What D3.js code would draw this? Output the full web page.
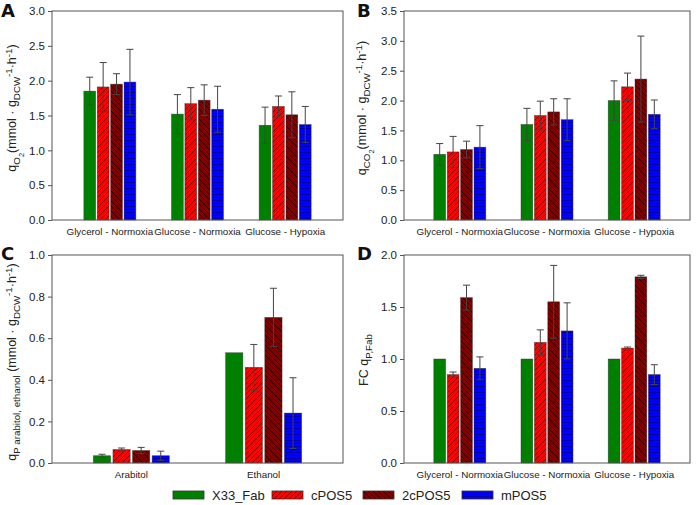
<!DOCTYPE html>
<html>
<head>
<meta charset="utf-8">
<script src="https://cdn.jsdelivr.net/npm/d3@7"></script>
<style>
  html, body { margin: 0; padding: 0; background: #fff; }
  svg { display: block; font-family: "Liberation Sans", Arial, sans-serif; }
</style>
</head>
<body>
<svg id="chart" width="696" height="505"></svg>
<script>
// four bar panels (A-D), one shared legend at the bottom

const strains = ["X33_Fab", "cPOS5", "2cPOS5", "mPOS5"];
const conditions = ["Glycerol - Normoxia", "Glucose - Normoxia", "Glucose - Hypoxia"];
const products = ["Arabitol", "Ethanol"];

// A: qO2
const qO2 = [[1.85, 1.91, 1.95, 1.98], [1.52, 1.67, 1.72, 1.59], [1.36, 1.63, 1.51, 1.37]];
const qO2Err = [[0.20, 0.35, 0.15, 0.47], [0.28, 0.23, 0.22, 0.33], [0.26, 0.15, 0.33, 0.26]];
// B: qCO2
const qCO2 = [[1.10, 1.14, 1.18, 1.22], [1.60, 1.75, 1.81, 1.68], [2.00, 2.23, 2.36, 1.77]];
const qCO2Err = [[0.18, 0.26, 0.14, 0.36], [0.27, 0.24, 0.22, 0.35], [0.33, 0.23, 0.72, 0.24]];
// C: qP arabitol / ethanol
const qP = [[0.035, 0.065, 0.060, 0.035], [0.53, 0.46, 0.70, 0.24]];
const qPErr = [[0.007, 0.007, 0.015, 0.022], [0, 0.11, 0.14, 0.17]];
// D: fold change qP,Fab
const fcFab = [[1.0, 0.85, 1.59, 0.91], [1.0, 1.16, 1.55, 1.27], [1.0, 1.105, 1.79, 0.85]];
const fcFabErr = [[0, 0.025, 0.12, 0.11], [0, 0.12, 0.35, 0.27], [0, 0.01, 0.015, 0.095]];

const ticksA = [0, 0.5, 1.0, 1.5, 2.0, 2.5, 3.0];
const ticksB = [0, 0.5, 1.0, 1.5, 2.0, 2.5, 3.0, 3.5];
const ticksC = [0, 0.2, 0.4, 0.6, 0.8, 1.0];
const ticksD = [0, 0.5, 1.0, 1.5, 2.0];

const FILLS = { "X33_Fab": "#008000", "cPOS5": "url(#hatch-red)", "2cPOS5": "url(#hatch-dark)", "mPOS5": "url(#hatch-blue)" };

const svg = d3.select("#chart");
const defs = svg.append("defs");

function hatch(id, bg, line, size, d, w) {
  const p = defs.append("pattern").attr("id", id)
    .attr("patternUnits", "userSpaceOnUse").attr("width", size).attr("height", size);
  p.append("rect").attr("width", size).attr("height", size).attr("fill", bg);
  p.append("path").attr("d", d).attr("stroke", line).attr("stroke-width", w).attr("fill", "none");
}
hatch("hatch-red", "#ff0000", "#5a0000", 5, "M0,5 L5,0 M-1,1 L1,-1 M4,6 L6,4", 0.7);
hatch("hatch-dark", "#800000", "#1a0000", 5, "M0,0 L5,5 M-1,4 L1,6 M4,-1 L6,1", 0.7);
hatch("hatch-blue", "#0000ff", "#00006a", 3, "M0,2.5 L3,2.5", 0.6);

// rotated label with sub (-1, -2) and super (+1) runs
function yLabel(g, x, y, size, parts) {
  const t = g.append("text")
    .attr("transform", `translate(${x},${y}) rotate(-90)`)
    .attr("text-anchor", "middle")
    .attr("font-size", size)
    .attr("fill", "#222");
  let level = 0;
  parts.forEach(([txt, lvl]) => {
    const fs = lvl === 0 ? size : size * (lvl === -2 ? 0.6 : 0.78);
    const dy = (level - lvl) * size * 0.3;
    t.append("tspan").attr("dy", dy).attr("font-size", fs).text(txt);
    level = lvl;
  });
}

function panel(cfg) {
  const { box, groups, values, errors, ticks, pad, span, letter } = cfg;
  const g = svg.append("g");

  const y = d3.scaleLinear().domain([0, ticks[ticks.length - 1]]).range([box.y1, box.y0]);
  const x = d3.scalePoint().domain(groups).range([box.x0, box.x1]).padding(pad);
  const inner = d3.scaleBand().domain(strains).range([-span / 2, span / 2]).paddingInner(0.12);

  const rows = [];
  groups.forEach((grp, gi) => strains.forEach((s, si) => {
    rows.push({ grp, s, v: values[gi][si], e: errors[gi][si] });
  }));

  g.selectAll("rect.bar").data(rows).join("rect")
    .attr("class", "bar")
    .attr("x", (d) => x(d.grp) + inner(d.s))
    .attr("width", inner.bandwidth())
    .attr("y", (d) => y(d.v))
    .attr("height", (d) => y(0) - y(d.v))
    .attr("fill", (d) => FILLS[d.s])
    .attr("stroke", "#333")
    .attr("stroke-opacity", 0.7)
    .attr("stroke-width", 0.6);

  const eb = g.selectAll("g.err").data(rows.filter((d) => d.e > 0)).join("g")
    .attr("class", "err")
    .attr("transform", (d) => `translate(${x(d.grp) + inner(d.s) + inner.bandwidth() / 2},0)`)
    .attr("stroke", "#444").attr("stroke-width", 1);
  eb.append("line").attr("y1", (d) => y(d.v - d.e)).attr("y2", (d) => y(d.v + d.e));
  eb.append("line").attr("x1", -3.5).attr("x2", 3.5).attr("y1", (d) => y(d.v + d.e)).attr("y2", (d) => y(d.v + d.e));
  eb.append("line").attr("x1", -3.5).attr("x2", 3.5).attr("y1", (d) => y(d.v - d.e)).attr("y2", (d) => y(d.v - d.e));

  // frame
  g.append("rect")
    .attr("x", box.x0).attr("y", box.y0)
    .attr("width", box.x1 - box.x0).attr("height", box.y1 - box.y0)
    .attr("fill", "none").attr("stroke", "#555").attr("stroke-width", 1);

  const ax = g.append("g").attr("transform", `translate(${box.x0},0)`)
    .call(d3.axisLeft(y).tickValues(ticks).tickSize(4).tickPadding(3).tickFormat(d3.format(".1f")));
  ax.select(".domain").remove();
  ax.selectAll(".tick line").attr("stroke", "#555");
  ax.selectAll("text").attr("font-size", 11.5).attr("fill", "#222").attr("font-family", null);

  g.selectAll("text.cat").data(groups).join("text")
    .attr("class", "cat")
    .attr("x", (d) => x(d)).attr("y", box.y1 + 15)
    .attr("text-anchor", "middle").attr("font-size", 9.8).attr("fill", "#222")
    .text((d) => d);

  g.append("text").attr("x", letter[0]).attr("y", letter[1])
    .attr("font-size", 18).attr("font-weight", "bold").attr("fill", "#111")
    .attr("font-family", "'DejaVu Sans', 'Liberation Sans', sans-serif")
    .text(cfg.name);

  yLabel(g, cfg.ylab[0], cfg.ylab[1], cfg.ylab[2], cfg.ylabParts);
}

const unitParts = [["(mmol · g", 0], ["DCW", -1], ["-1", 1], ["·h", 0], ["-1", 1], [")", 0]];

panel({
  name: "A", box: { x0: 52, x1: 343, y0: 11, y1: 220 }, groups: conditions,
  values: qO2, errors: qO2Err, ticks: ticksA, pad: 0.66, span: 52, letter: [1, 17],
  ylab: [16, 108, 12.5], ylabParts: [["q", 0], ["O", -1], ["2", -2], ...unitParts]
});
panel({
  name: "B", box: { x0: 404, x1: 690, y0: 11, y1: 220 }, groups: conditions,
  values: qCO2, errors: qCO2Err, ticks: ticksB, pad: 0.64, span: 52, letter: [357, 17],
  ylab: [366, 108, 12.5], ylabParts: [["q", 0], ["CO", -1], ["2", -2], ...unitParts]
});
panel({
  name: "C", box: { x0: 52, x1: 343, y0: 255, y1: 463 }, groups: products,
  values: qP, errors: qPErr, ticks: ticksC, pad: 0.6, span: 76, letter: [1, 260],
  ylab: [16, 362, 12.5], ylabParts: [["q", 0], ["P arabitol, ethanol", -1], [" (mmol · g", 0], ["DCW", -1], ["-1", 1], ["·h", 0], ["-1", 1], [")", 0]]
});
panel({
  name: "D", box: { x0: 404, x1: 690, y0: 255, y1: 463 }, groups: conditions,
  values: fcFab, errors: fcFabErr, ticks: ticksD, pad: 0.64, span: 52, letter: [357, 260],
  ylab: [368, 360, 12.5], ylabParts: [["FC q", 0], ["P,Fab", -1]]
});

// legend
const legendX = [173, 272, 363, 462];
const lg = svg.append("g").selectAll("g").data(strains).join("g")
  .attr("transform", (d, i) => `translate(${legendX[i]},491)`);
lg.append("rect").attr("width", 31).attr("height", 8)
  .attr("fill", (d) => FILLS[d]).attr("stroke", "#333").attr("stroke-width", 0.8);
lg.append("text").attr("x", 39).attr("y", 9).attr("font-size", 13).attr("fill", "#222").text((d) => d);
</script>
</body>
</html>
